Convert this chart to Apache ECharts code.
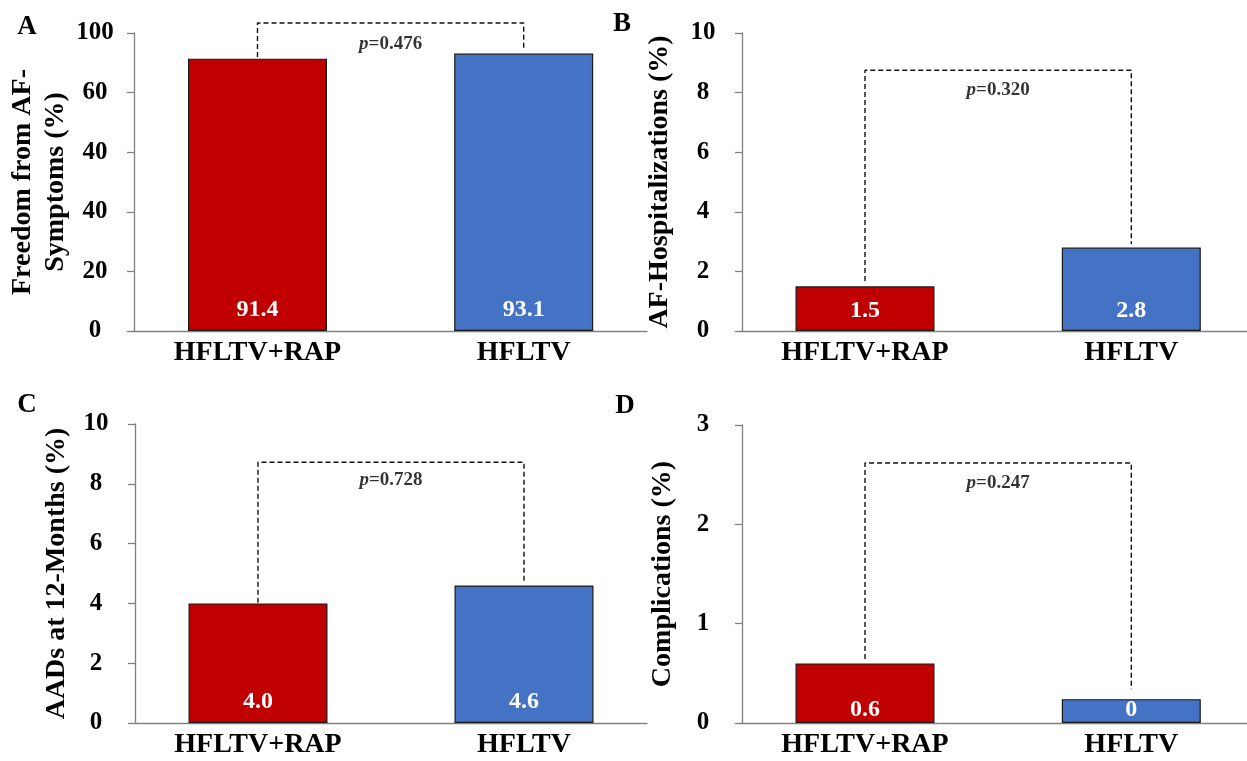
<!DOCTYPE html>
<html>
<head>
<meta charset="utf-8">
<script src="https://cdn.jsdelivr.net/npm/echarts@6/dist/echarts.min.js"></script>
<style>
html,body{margin:0;padding:0;background:#fff;}
#chart{width:1247px;height:761px;}
</style>
</head>
<body>
<div id="chart"></div>
<script>
// ---- data ----
const categories = ['HFLTV+RAP', 'HFLTV'];
const valuesA = [91.4, 93.1];
const valuesB = [1.5, 2.8];
const valuesC = [4.0, 4.6];
const valuesD = [0.6, 0.24];
const barTextA = ['91.4', '93.1'];
const barTextB = ['1.5', '2.8'];
const barTextC = ['4.0', '4.6'];
const barTextD = ['0.6', '0'];
const pValues = ['0.476', '0.320', '0.728', '0.247'];
// bracket: [left leg bottom, top, right leg bottom]
const bracketA = [91.95, 103.35, 94.8];
const bracketB = [1.68, 8.75, 2.92];
const bracketC = [4.02, 8.72, 4.69];
const bracketD = [0.645, 2.617, 0.34];
const pTextY = [96.4, 8.08, 8.11, 2.42];
const tickLabelsA = ['0', '20', '40', '40', '60', '100'];
const axisNames = ['Freedom from AF-\nSymptoms (%)', 'AF-Hospitalizations (%)', 'AADs at 12-Months (%)', 'Complications (%)'];
const panelLetters = ['A', 'B', 'C', 'D'];

const RED = '#C00000', BLUE = '#4472C4';
const FONT = '"Liberation Serif", "Times New Roman", serif';

const panels = [
  {vals: valuesA, txt: barTextA, br: bracketA, ymax: 100, step: 20, grid: {left: 134, top: 33, width: 513, height: 298}, xr: [-0.4639, 1.4632], gap: 57, labDist: 9, ticks: tickLabelsA},
  {vals: valuesB, txt: barTextB, br: bracketB, ymax: 10, step: 2, grid: {left: 742, top: 33, width: 505, height: 298}, xr: [-0.4619, 1.4345], gap: 66, labDist: 8},
  {vals: valuesC, txt: barTextC, br: bracketC, ymax: 10, step: 2, grid: {left: 135, top: 424, width: 512, height: 299}, xr: [-0.4624, 1.4624], gap: 62, labDist: 9},
  {vals: valuesD, txt: barTextD, br: bracketD, ymax: 3, step: 1, grid: {left: 742, top: 425, width: 505, height: 298}, xr: [-0.4619, 1.4345], gap: 63, labDist: 1}
];

const grid = [], xAxis = [], yAxis = [], series = [];
panels.forEach((p, k) => {
  grid.push(Object.assign({containLabel: false, outerBoundsMode: 'none'}, p.grid));
  xAxis.push({
    type: 'value', gridIndex: k, min: p.xr[0], max: p.xr[1],
    splitLine: {show: false},
    axisTick: {show: false},
    axisLine: {onZero: false, lineStyle: {color: '#808080', width: 1.3}},
    axisLabel: {
      customValues: [0, 1], margin: 8,
      color: '#000', fontFamily: FONT, fontWeight: 'bold', fontSize: 28,
      formatter: v => categories[Math.round(v)] || ''
    }
  });
  yAxis.push({
    type: 'value', gridIndex: k, min: 0, max: p.ymax, interval: p.step,
    splitLine: {show: false},
    axisLine: {show: true, onZero: false, lineStyle: {color: '#808080', width: 1.3}},
    axisTick: {show: true, length: 7, lineStyle: {color: '#808080', width: 1.3}},
    axisLabel: {
      margin: 39, align: 'center',
      color: '#000', fontFamily: FONT, fontWeight: 'bold', fontSize: 25,
      formatter: p.ticks ? ((v, i) => p.ticks[i]) : (v => String(v))
    },
    name: axisNames[k], nameLocation: 'middle', nameGap: p.gap,
    nameTextStyle: {color: '#000', fontFamily: FONT, fontWeight: 'bold', fontSize: 28, lineHeight: 33}
  });
  series.push({
    type: 'bar', xAxisIndex: k, yAxisIndex: k, barWidth: 139,
    data: p.vals.map((v, i) => ({
      value: [i, v],
      itemStyle: {color: i === 0 ? RED : BLUE, borderColor: '#1a1a1a', borderWidth: 1.2}
    })),
    label: {
      show: true, position: 'insideBottom', distance: p.labDist,
      color: '#fff', fontFamily: FONT, fontWeight: 'bold', fontSize: 24,
      formatter: q => p.txt[q.dataIndex]
    },
    silent: true
  });
  series.push({
    type: 'line', xAxisIndex: k, yAxisIndex: k, clip: false,
    showSymbol: false, symbol: 'none', silent: true,
    lineStyle: {color: '#111', width: 1.4, type: [5, 3]},
    data: [[0, p.br[0]], [0, p.br[1]], [1, p.br[1]], [1, p.br[2]]]
  });
  series.push({
    type: 'scatter', xAxisIndex: k, yAxisIndex: k, clip: false, silent: true,
    symbolSize: 1, itemStyle: {color: 'rgba(0,0,0,0)'},
    data: [[0.5, pTextY[k]]],
    label: {
      show: true, position: 'inside',
      formatter: '{i|p}{n|=' + pValues[k] + '}',
      rich: {
        i: {fontFamily: FONT, fontStyle: 'italic', fontWeight: 'bold', fontSize: 19, color: '#000'},
        n: {fontFamily: FONT, fontWeight: 'bold', fontSize: 19, color: '#000'}
      }
    }
  });
});

const letterPos = [[27, 27], [622, 24], [27, 405], [625, 406]];
const graphic = panelLetters.map((t, i) => ({
  type: 'text', x: letterPos[i][0], y: letterPos[i][1], silent: true,
  style: {text: t, fill: '#000', font: 'bold 27px ' + FONT, align: 'center', verticalAlign: 'middle'}
}));

const chart = echarts.init(document.getElementById('chart'), null, {renderer: 'canvas'});
chart.setOption({animation: false, backgroundColor: '#fff', grid, xAxis, yAxis, series, graphic});
</script>
</body>
</html>
